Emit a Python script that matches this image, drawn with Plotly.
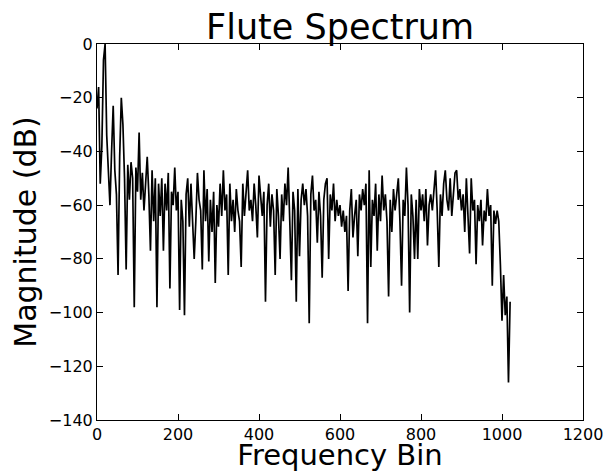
import plotly.graph_objects as go

bin_step = 4
freq_bin = list(range(0, 1024, bin_step))

mag_db = [
    -24, -16, -52, -38, -6, 0, -34, -46, -60, -40, -23, -47, -56, -86, -42, -20,
    -30, -50, -84, -45, -58, -44, -50, -98, -46, -55, -33, -58, -48, -62, -50, -42,
    -56, -77, -47, -66, -50, -98, -52, -64, -50, -77, -52, -62, -48, -91, -55, -60,
    -46, -62, -55, -99, -58, -66, -101, -56, -50, -68, -52, -64, -80, -66, -48, -58,
    -62, -84, -47, -66, -54, -81, -58, -70, -55, -89, -60, -68, -52, -64, -47, -62,
    -56, -86, -52, -66, -58, -70, -54, -62, -66, -83, -52, -64, -56, -47, -62, -58,
    -66, -52, -60, -72, -49, -58, -64, -55, -96, -60, -52, -68, -56, -62, -86, -54,
    -64, -80, -56, -66, -52, -60, -46, -66, -88, -55, -62, -96, -54, -79, -58, -52,
    -60, -54, -64, -104, -56, -49, -62, -58, -74, -55, -64, -87, -58, -52, -50, -80,
    -56, -62, -52, -66, -58, -64, -60, -68, -62, -70, -64, -92, -62, -54, -72, -64,
    -58, -79, -56, -62, -54, -60, -52, -104, -47, -83, -58, -64, -52, -77, -56, -66,
    -49, -62, -56, -66, -94, -58, -70, -54, -62, -56, -50, -66, -90, -58, -64, -46,
    -60, -100, -56, -64, -80, -58, -80, -54, -62, -56, -66, -54, -75, -60, -56, -62,
    -54, -47, -62, -83, -56, -64, -52, -47, -58, -62, -50, -64, -56, -48, -47, -58,
    -54, -62, -56, -70, -50, -64, -78, -50, -62, -58, -82, -60, -66, -58, -75, -62,
    -66, -54, -64, -60, -90, -62, -67, -62, -66, -82, -103, -86, -101, -94, -126, -96,
]

x_ticks = [0, 200, 400, 600, 800, 1000, 1200]
y_ticks = [0, -20, -40, -60, -80, -100, -120, -140]

fig = go.Figure()
fig.add_trace(go.Scatter(x=freq_bin, y=mag_db, mode='lines',
                         line=dict(color='black', width=1.7)))

axis_style = dict(showgrid=False, zeroline=False, showline=True, linecolor='black',
                  linewidth=1, mirror='ticks', ticks='inside', ticklen=6,
                  tickcolor='black', tickfont=dict(size=16, color='black'),
                  ticklabeloverflow='allow', automargin=False)

fig.update_xaxes(range=[0, 1200], tickvals=x_ticks,
                 title=dict(text='Frequency Bin', font=dict(size=29, color='black'), standoff=5),
                 **axis_style)
fig.update_yaxes(range=[-140, 0], tickvals=y_ticks,
                 title=dict(text='Magnitude (dB)', font=dict(size=30, color='black'), standoff=3),
                 **axis_style)

fig.update_layout(
    width=604, height=472,
    margin=dict(l=97, r=21, t=44, b=52),
    paper_bgcolor='white', plot_bgcolor='white',
    font=dict(family='DejaVu Sans', color='black'),
    title=dict(text='Flute Spectrum', x=0.563, xanchor='center', y=0.943, yanchor='middle',
               font=dict(size=35, color='black')),
    showlegend=False,
)

# drop the default body margin so the figure fills the window exactly
fig.write_html("out.html", config={'displayModeBar': False},
               post_script="document.body.style.margin='0';")
